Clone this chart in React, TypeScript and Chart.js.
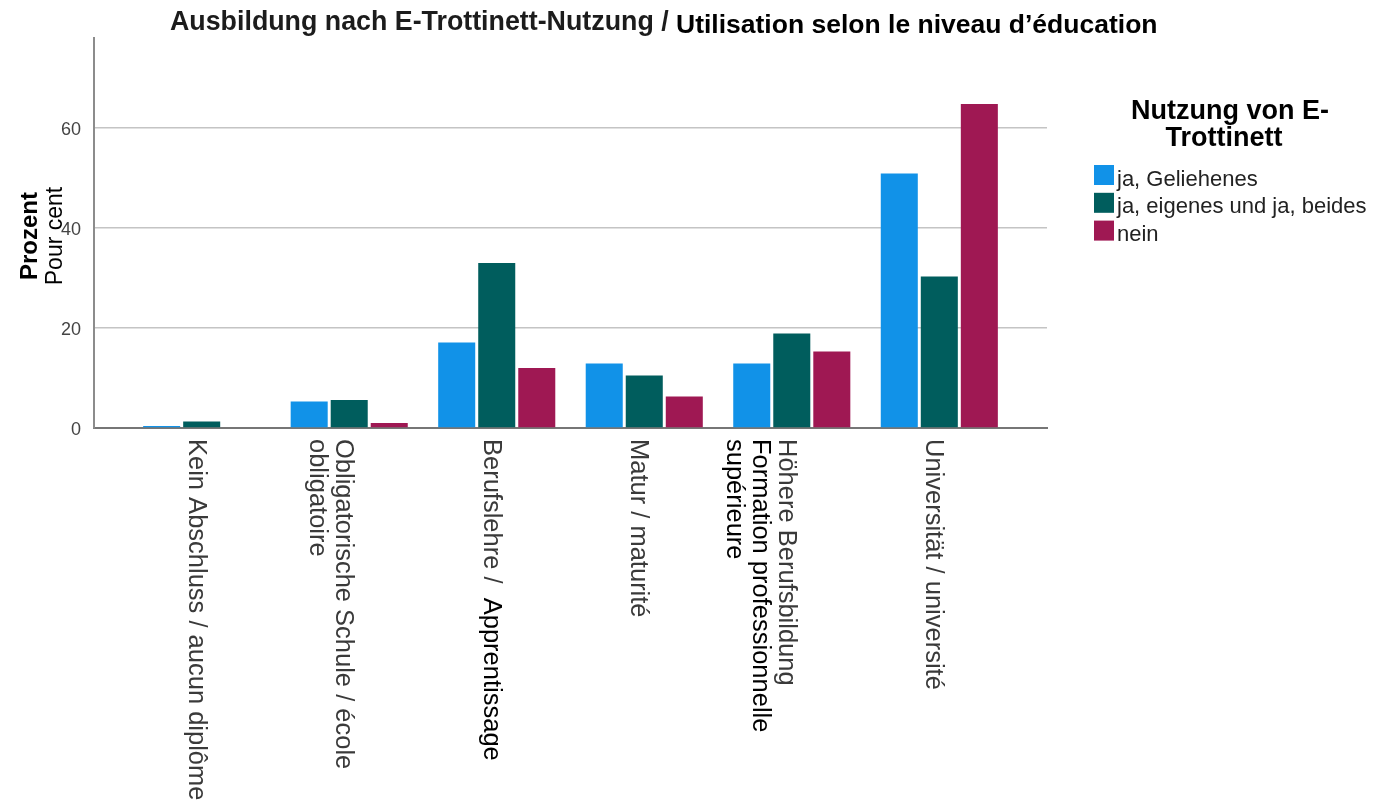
import React, { useEffect, useRef } from "react";
import { Chart, registerables } from "chart.js";

Chart.register(...registerables);

// ---------- data ----------
const TITLE_DE = "Ausbildung nach E-Trottinett-Nutzung / ";
const TITLE_FR = "Utilisation selon le niveau d\u2019éducation";
const Y_TITLE_DE = "Prozent";
const Y_TITLE_FR = "Pour cent";
const LEGEND_TITLE = ["Nutzung von E-", "Trottinett"];

const CATEGORY_LINES: string[][] = [
  ["Kein Abschluss / aucun diplôme"],
  ["Obligatorische Schule / école", "obligatoire"],
  ["Berufslehre /  Apprentissage"],
  ["Matur / maturité"],
  ["Höhere Berufsbildung", "Formation professionnelle", "supérieure"],
  ["Universität / université"],
];
const BLACK_SEGMENTS = ["Apprentissage", "Formation professionnelle", "supérieure"];

const SERIES_LABELS = ["ja, Geliehenes", "ja, eigenes und ja, beides", "nein"];
const SERIES_COLORS = ["#1192e8", "#005d5d", "#9f1853"];
const GELIEHENES = [0.4, 5.3, 17.1, 12.9, 12.9, 50.9];
const EIGENES = [1.3, 5.6, 33.0, 10.5, 18.9, 30.3];
const NEIN = [0, 1.0, 12.0, 6.3, 15.3, 64.8];
const SERIES_VALUES = [GELIEHENES, EIGENES, NEIN];

const Y_TICKS = [0, 20, 40, 60];
const Y_MAX = 78;

const FONT = "'Liberation Sans', Arial, Helvetica, sans-serif";

const overlayPlugin = {
  id: "overlay",
  afterDraw(chart: any) {
    const ctx: CanvasRenderingContext2D = chart.ctx;
    const xScale = chart.scales.x;

    // Title
    ctx.save();
    ctx.textAlign = "left";
    ctx.textBaseline = "alphabetic";
    ctx.font = `bold 26.8px ${FONT}`;
    ctx.fillStyle = "#1c1c1c";
    ctx.fillText(TITLE_DE, 170, 30);
    ctx.fillStyle = "#000";
    ctx.font = `bold 26.5px ${FONT}`;
    ctx.fillText(TITLE_FR, 676, 33);
    ctx.restore();

    // Y axis title (two lines)
    ctx.save();
    ctx.translate(37, 236);
    ctx.rotate(-Math.PI / 2);
    ctx.textAlign = "center";
    ctx.textBaseline = "alphabetic";
    ctx.font = `bold 24px ${FONT}`;
    ctx.fillStyle = "#000";
    ctx.fillText(Y_TITLE_DE, 0, 0);
    ctx.restore();
    ctx.save();
    ctx.translate(62, 236);
    ctx.rotate(-Math.PI / 2);
    ctx.textAlign = "center";
    ctx.textBaseline = "alphabetic";
    ctx.font = `23px ${FONT}`;
    ctx.fillStyle = "#000";
    ctx.fillText(Y_TITLE_FR, 0, 0);
    ctx.restore();

    // X category labels (rotated clockwise)
    ctx.font = `25.5px ${FONT}`;
    CATEGORY_LINES.forEach((lines, i) => {
      const cx = xScale.getPixelForValue(i) - 6;
      lines.forEach((line, j) => {
        ctx.save();
        ctx.translate(cx - j * 26, 439);
        ctx.rotate(Math.PI / 2);
        ctx.textAlign = "left";
        ctx.textBaseline = "middle";
        const seg = BLACK_SEGMENTS.find((s) => line.endsWith(s));
        if (seg) {
          const head = line.slice(0, line.length - seg.length);
          ctx.fillStyle = "#3a3a3a";
          ctx.fillText(head, 0, 0);
          const w = ctx.measureText(head).width;
          ctx.fillStyle = "#000";
          ctx.fillText(seg, w, 0);
        } else {
          ctx.fillStyle = "#3a3a3a";
          ctx.fillText(line, 0, 0);
        }
        ctx.restore();
      });
    });

    // Legend
    ctx.save();
    ctx.textAlign = "center";
    ctx.textBaseline = "alphabetic";
    ctx.font = `bold 27px ${FONT}`;
    ctx.fillStyle = "#000";
    ctx.fillText(LEGEND_TITLE[0], 1230, 119);
    ctx.fillText(LEGEND_TITLE[1], 1224, 146);
    ctx.textAlign = "left";
    ctx.font = `22px ${FONT}`;
    SERIES_LABELS.forEach((lab, k) => {
      const top = 165 + k * 27.8;
      ctx.fillStyle = SERIES_COLORS[k];
      ctx.fillRect(1094, top, 20, 20);
      ctx.fillStyle = "#222";
      ctx.fillText(lab, 1117, top + 20.5);
    });
    ctx.restore();
  },
};

export default function App() {
  const canvasRef = useRef<HTMLCanvasElement | null>(null);

  useEffect(() => {
    document.body.style.margin = "0";
    const canvas = canvasRef.current;
    if (!canvas) return;
    const chart = new Chart(canvas, {
      type: "bar",
      data: {
        datasets: SERIES_VALUES.map((vals, k) => ({
          label: SERIES_LABELS[k],
          data: vals.map((v, i) => ({ x: i, y: v })),
          backgroundColor: SERIES_COLORS[k],
          borderWidth: 0,
          categoryPercentage: 0.814,
          barPercentage: 0.925,
        })),
      },
      options: {
        responsive: false,
        animation: false,
        devicePixelRatio: 1,
        layout: { padding: { left: 0, top: 38, right: 331, bottom: 0 } },
        plugins: {
          legend: { display: false },
          title: { display: false },
          tooltip: { enabled: false },
        },
        scales: {
          x: {
            type: "linear",
            offset: false,
            min: -0.73,
            max: 5.73,
            afterBuildTicks: (s: any) => {
              s.ticks = CATEGORY_LINES.map((_, i) => ({ value: i }));
            },
            ticks: { display: false },
            grid: { display: false, offset: false },
            border: { display: true, color: "#767676", width: 2 },
            afterFit: (s: any) => {
              s.height = 380;
            },
          },
          y: {
            min: 0,
            max: Y_MAX,
            afterBuildTicks: (s: any) => {
              s.ticks = Y_TICKS.map((v) => ({ value: v }));
            },
            ticks: {
              padding: 13,
              labelOffset: 2,
              color: "#444",
              font: { family: FONT, size: 18 },
            },
            grid: { color: "#c4c4c4", lineWidth: 1.5, drawTicks: false },
            border: { display: true, color: "#8c8c8c", width: 2 },
            afterFit: (s: any) => {
              s.width = 94;
            },
          },
        },
      } as any,
      plugins: [overlayPlugin],
    });
    return () => chart.destroy();
  }, []);

  return (
    <div style={{ width: 1378, height: 808, background: "#fff" }}>
      <canvas ref={canvasRef} width={1378} height={808} />
    </div>
  );
}
